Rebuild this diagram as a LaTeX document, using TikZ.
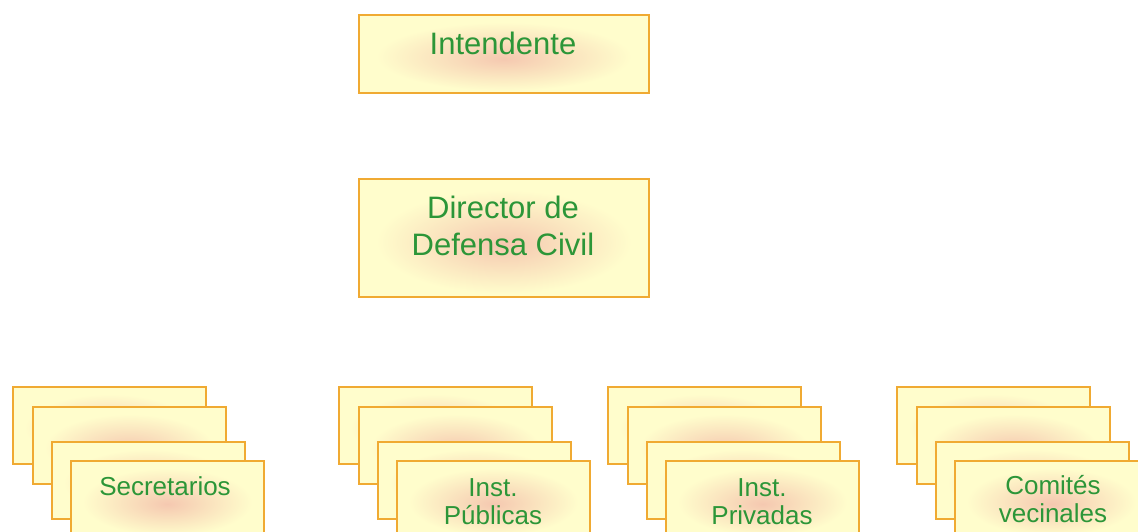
\documentclass[tikz,border=0pt]{standalone}
\usepackage{fontspec}
\setmainfont{Liberation Sans}
\definecolor{edgec}{RGB}{240,170,50}
\definecolor{fillc}{RGB}{255,253,204}
\definecolor{pinkc}{RGB}{245,200,176}
\definecolor{textc}{RGB}{44,150,56}
\pgfdeclareradialshading{glow}{\pgfpoint{0bp}{-3bp}}{color(0bp)=(pinkc); color(22bp)=(fillc); color(50bp)=(fillc)}
\newcommand\orgbox[5]{\node[cbox, minimum width=#3, minimum height=#4] (#5) at (#1,#2) {};}
\newcommand\orgstack[2]{%
  \orgbox{#1}{386}{193pt}{77pt}{#2a}
  \orgbox{#1+20}{406}{193pt}{77pt}{#2b}
  \orgbox{#1+39}{441}{193pt}{77pt}{#2c}
  \orgbox{#1+58}{460}{193pt}{77pt}{#2d}}
\begin{document}
\begin{tikzpicture}[x=1pt,y=-1pt,
  cbox/.style={draw=edgec, line width=1.8pt, shading=glow, anchor=north west, inner sep=0pt, rectangle},
  toptxt/.style={text=textc, font=\fontsize{31}{37}\selectfont, align=center, inner sep=0pt},
  bottxt/.style={text=textc, font=\fontsize{26}{27.5}\selectfont, align=center, inner sep=0pt}]
\useasboundingbox (0,0) rectangle (1138,531);
\clip (0,0) rectangle (1138,531);
\orgbox{358}{14}{290pt}{78pt}{intendente}
\orgbox{358}{178}{290pt}{118pt}{director}
\node[toptxt, anchor=base] (tI) at (503,54) {Intendente};
\node[toptxt, anchor=base] (tD) at (503,255) {Director de\\Defensa Civil};
\orgstack{12}{sec}
\orgstack{338}{pub}
\orgstack{607}{pri}
\orgstack{896}{com}
\node[bottxt, anchor=base] (tS) at (165,495) {Secretarios};
\node[bottxt, anchor=base] (tP) at (493,524) {Inst.\\Públicas};
\node[bottxt, anchor=base] (tR) at (762,524) {Inst.\\Privadas};
\node[bottxt, anchor=base] (tC) at (1053,522) {Comités\\vecinales};
\end{tikzpicture}
\end{document}
